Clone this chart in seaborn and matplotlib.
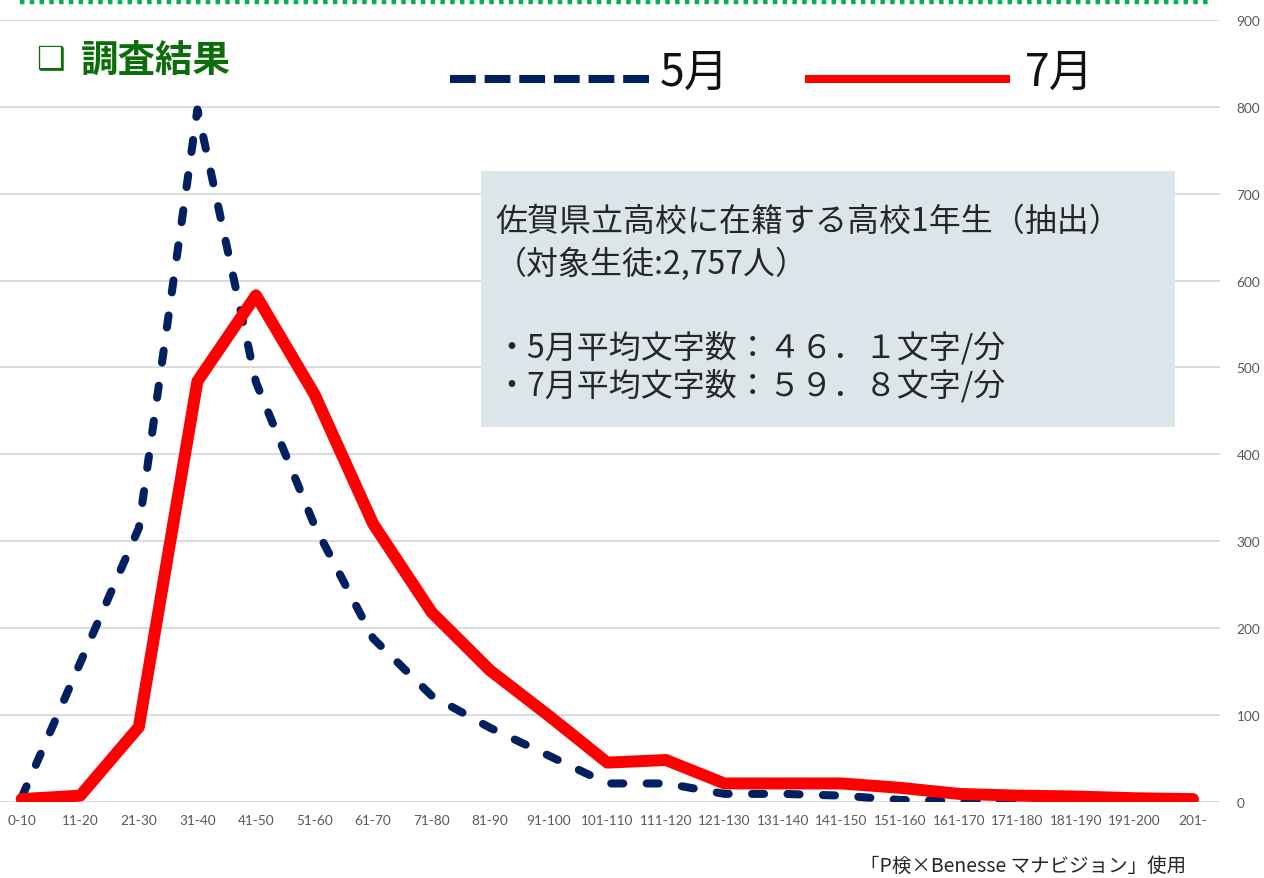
import numpy as np
import pandas as pd
import matplotlib
matplotlib.use("Agg")
import matplotlib.pyplot as plt
from matplotlib.lines import Line2D
from matplotlib.patches import Rectangle
import seaborn as sns

categories = ['0-10', '11-20', '21-30', '31-40', '41-50', '51-60', '61-70', '71-80',
              '81-90', '91-100', '101-110', '111-120', '121-130', '131-140', '141-150',
              '151-160', '161-170', '171-180', '181-190', '191-200', '201-']
may_counts = [5, 160, 315, 797, 483, 318, 188, 122, 85, 53, 21, 21, 9, 9, 7, 2, 1, 1, 2, 4, 1]
jul_counts = [3, 7, 86, 484, 583, 469, 320, 218, 151, 99, 45, 48, 21, 21, 21, 16, 9, 7, 6, 4, 3]
series_labels = ['5月', '7月']
y_ticks = [0, 100, 200, 300, 400, 500, 600, 700, 800, 900]
title_text = '調査結果'
box_lines = ['佐賀県立高校に在籍する高校1年生（抽出）',
             '（対象生徒:2,757人）',
             '・5月平均文字数：４６．１文字/分',
             '・7月平均文字数：５９．８文字/分']
footnote = '「P検×Benesse マナビジョン」使用'

W, H = 1264, 879
sns.set_theme(style="white")
plt.rcParams['font.family'] = ['Noto Sans CJK JP', 'DejaVu Sans']

fig = plt.figure(figsize=(W / 100, H / 100), dpi=100)

def fx(x):
    return x / W

def fy(y):
    return 1 - y / H

ax_left, ax_right, ax_top, ax_bottom = 0, 1220, 21, 802.7
ax = fig.add_axes([fx(ax_left), fy(ax_bottom), (ax_right - ax_left) / W, (ax_bottom - ax_top) / H])

df = pd.DataFrame({'cat': categories, 'may': may_counts, 'jul': jul_counts})
NAVY = '#002060'
RED = '#FF0000'

sns.lineplot(data=df, x='cat', y='may', ax=ax, color=NAVY, linewidth=5.8, sort=False)
sns.lineplot(data=df, x='cat', y='jul', ax=ax, color=RED, linewidth=8.6, sort=False)
l_may, l_jul = ax.lines[0], ax.lines[1]
l_may.set_linestyle((0, (1.5, 2.9)))
l_may.set_dash_capstyle('round')
l_may.set_dash_joinstyle('round')
l_jul.set_solid_capstyle('round')
l_jul.set_solid_joinstyle('round')
l_jul.set_zorder(3)
l_may.set_zorder(2)

n = len(categories)
scale = (1193 - 21.7) / (n - 1)
xmin = -21.7 / scale
xmax = xmin + (ax_right - ax_left) / scale
ax.set_xlim(xmin, xmax)
ax.set_ylim(0, 900)
ax.set_yticks(y_ticks)
ax.yaxis.tick_right()
ax.grid(axis='y', color='#D9D9D9', linewidth=1.3)
ax.grid(axis='x', visible=False)
for s in ax.spines.values():
    s.set_visible(False)
ax.set_xlabel('')
ax.set_ylabel('')
ax.set_xticks(range(n))
ax.set_xticklabels(categories)
ax.tick_params(axis='x', length=0, pad=9, labelsize=9.8, labelcolor='#595959')
ax.tick_params(axis='y', length=0, pad=12, labelsize=9.8, labelcolor='#595959')
for t in ax.get_xticklabels() + ax.get_yticklabels():
    t.set_fontfamily(['Lato', 'DejaVu Sans'])

# top dotted green rule
fig.add_artist(Line2D([fx(20), fx(1212)], [fy(3), fy(3)], color='#00B050', linewidth=3.2,
                      linestyle=(0, (1, 1.2)), transform=fig.transFigure))

# title
fig.text(fx(36), fy(61), '❑', fontsize=23, color='#0B6E0B', va='center', ha='left',
         family=['DejaVu Sans'])
fig.text(fx(81), fy(60), title_text, fontsize=27, color='#0B6E0B', fontweight='bold',
         va='center', ha='left')

# legend
fig.add_artist(Line2D([fx(450), fx(655)], [fy(80), fy(80)], color=NAVY, linewidth=5.8,
                      linestyle=(0, (3.2, 1.1)), solid_capstyle='butt',
                      dash_capstyle='butt', transform=fig.transFigure))
fig.text(fx(660), fy(86), series_labels[0], fontsize=32, color='#111111', va='baseline', ha='left')
fig.add_artist(Line2D([fx(805), fx(1010)], [fy(80), fy(80)], color=RED, linewidth=5.8,
                      solid_capstyle='butt', transform=fig.transFigure))
fig.text(fx(1025), fy(86), series_labels[1], fontsize=32, color='#111111', va='baseline', ha='left')

# info box
fig.add_artist(Rectangle((fx(481), fy(428)), (1175 - 481) / W, (428 - 172) / H,
                         facecolor='#DCE6EA', edgecolor='none', transform=fig.transFigure, zorder=5))
box_y = [222, 264, 348, 386]
for txt, yy in zip(box_lines, box_y):
    fig.text(fx(495), fy(yy), txt, fontsize=23, color='#262626', va='center', ha='left', zorder=6)

# footnote
fig.text(fx(1186), fy(866), footnote, fontsize=14, color='#262626', va='center', ha='right')

fig.savefig('out.png', dpi=100)
